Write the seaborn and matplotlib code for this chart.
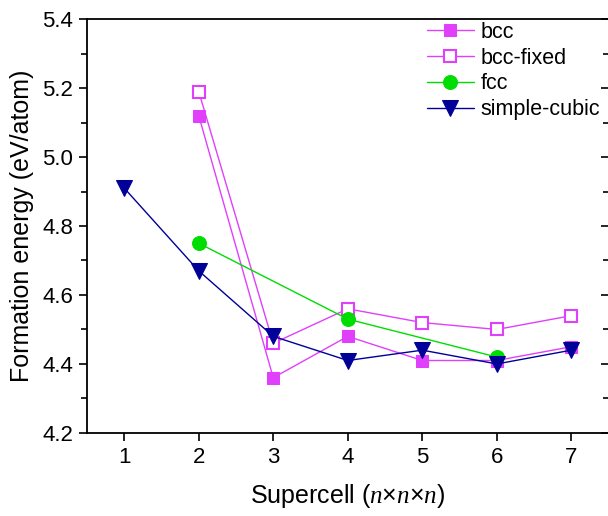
import matplotlib
matplotlib.use('Agg')
import matplotlib.pyplot as plt
import seaborn as sns
from matplotlib.ticker import MultipleLocator, FormatStrFormatter, NullFormatter

# 数据
bcc_x = [2, 3, 4, 5, 6, 7]
bcc_y = [5.12, 4.36, 4.48, 4.41, 4.41, 4.45]
bcc_fixed_x = [2, 3, 4, 5, 6, 7]
bcc_fixed_y = [5.19, 4.46, 4.56, 4.52, 4.50, 4.54]
fcc_x = [2, 4, 6]
fcc_y = [4.75, 4.53, 4.42]
sc_x = [1, 2, 3, 4, 5, 6, 7]
sc_y = [4.91, 4.67, 4.48, 4.41, 4.44, 4.40, 4.44]

sns.set_style('ticks')
plt.rcParams['font.family'] = ['Liberation Sans', 'DejaVu Sans']
plt.rcParams['mathtext.fontset'] = 'custom'
plt.rcParams['mathtext.it'] = 'Liberation Serif:italic'
plt.rcParams['mathtext.rm'] = 'Liberation Sans'
plt.rcParams['text.color'] = 'black'
plt.rcParams['axes.labelcolor'] = 'black'
plt.rcParams['xtick.color'] = 'black'
plt.rcParams['ytick.color'] = 'black'
plt.rcParams['axes.edgecolor'] = 'black'

magenta = '#E040FB'
green = '#00DD00'
navy = '#000099'

fig = plt.figure(figsize=(6.08, 5.16), dpi=100)
ax = fig.add_axes([0.143, 0.161, 0.858, 0.802])

sns.lineplot(x=bcc_x, y=bcc_y, ax=ax, color=magenta, marker='s', markersize=9,
             markeredgecolor=magenta, linewidth=1, label='bcc')
sns.lineplot(x=bcc_fixed_x, y=bcc_fixed_y, ax=ax, color=magenta, marker='s', markersize=9,
             markerfacecolor='white', markeredgecolor=magenta, markeredgewidth=1.5,
             linewidth=1, label='bcc-fixed')
sns.lineplot(x=fcc_x, y=fcc_y, ax=ax, color=green, marker='o', markersize=10,
             markeredgecolor=green, linewidth=1, label='fcc')
sns.lineplot(x=sc_x, y=sc_y, ax=ax, color=navy, marker='v', markersize=11,
             markeredgecolor=navy, linewidth=1, label='simple-cubic')

ax.set_xlim(0.5, 7.5)
ax.set_ylim(4.2, 5.4)
ax.xaxis.set_major_locator(MultipleLocator(1))
ax.yaxis.set_major_locator(MultipleLocator(0.2))
ax.yaxis.set_minor_locator(MultipleLocator(0.1))
ax.yaxis.set_major_formatter(FormatStrFormatter('%.1f'))
ax.tick_params(axis='both', which='major', labelsize=16, length=6, width=1.2,
               direction='out', pad=4)
ax.tick_params(axis='y', which='minor', length=4, width=1.2, direction='out')
for spine in ax.spines.values():
    spine.set_linewidth(1.3)

# 右侧刻度朝内
sec = ax.secondary_yaxis('right')
sec.yaxis.set_major_locator(MultipleLocator(0.2))
sec.yaxis.set_minor_locator(MultipleLocator(0.1))
sec.yaxis.set_major_formatter(NullFormatter())
sec.tick_params(which='major', direction='in', length=6, width=1.2)
sec.tick_params(which='minor', direction='in', length=4, width=1.2)
sec.spines['right'].set_linewidth(1.3)

ax.set_xlabel('Supercell ($n$×$n$×$n$)', fontsize=18, labelpad=10)
ax.set_ylabel('Formation energy (eV/atom)', fontsize=18, labelpad=6)

ax.legend(loc='upper left', bbox_to_anchor=(0.635, 1.014), frameon=False, fontsize=15.5,
          handlelength=2.2, handletextpad=0.3, labelspacing=0.22, borderaxespad=0)

fig.savefig('out.png', dpi=100)
